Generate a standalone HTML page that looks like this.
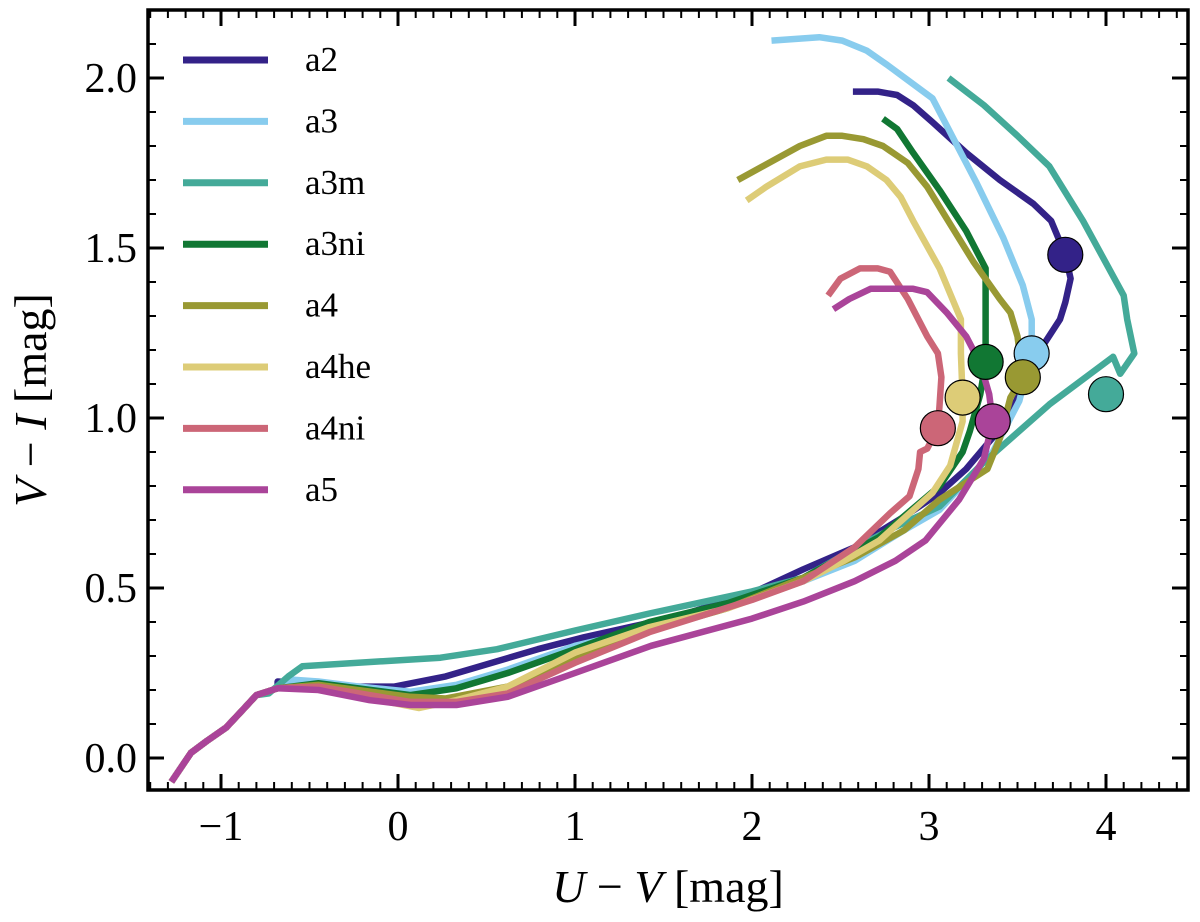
<!DOCTYPE html>
<html><head><meta charset="utf-8"><style>
html,body{margin:0;padding:0;background:#fff;}
svg{display:block;font-family:"Liberation Serif",serif;}
</style></head><body>
<svg id="chart" width="1200" height="922" viewBox="0 0 1200 922"></svg>
<script>
const seriesNames=["a2","a3","a3m","a3ni","a4","a4he","a4ni","a5"];
const seriesColors=["#332288","#88CCEE","#44AA99","#117733","#999933","#DDCC77","#CC6677","#AA4499"];
const commonU=[-1.28,-1.17,-1.08,-0.97,-0.88,-0.8,-0.68];
const commonV=[-0.07,0.015,0.05,0.09,0.14,0.185,0.205];
const a2U=[2.57,2.71,2.82,2.91,3.02,3.21,3.40,3.59,3.69,3.73,3.77,3.80,3.77,3.74,3.64,3.51,3.44,3.34,3.21,3.06,2.86,2.58,2.29,2.0,1.57,1.05,0.79,0.27,-0.02,-0.25,-0.51,-0.68];
const a2V=[1.96,1.96,1.95,1.92,1.87,1.78,1.70,1.63,1.58,1.53,1.48,1.41,1.34,1.29,1.21,1.07,0.99,0.93,0.85,0.78,0.71,0.62,0.555,0.485,0.415,0.355,0.32,0.24,0.21,0.21,0.22,0.225];
const a3U=[2.11,2.38,2.51,2.65,2.76,2.89,3.02,3.14,3.27,3.42,3.53,3.58,3.58,3.51,3.36,3.06,2.86,2.58,2.29,2.0,1.57,1.0,0.62,0.33,0.07,-0.22,-0.45,-0.59,-0.68];
const a3V=[2.11,2.12,2.11,2.08,2.04,1.99,1.94,1.82,1.69,1.53,1.39,1.29,1.19,1.05,0.90,0.73,0.67,0.58,0.52,0.47,0.40,0.33,0.26,0.215,0.195,0.21,0.225,0.23,0.205];
const a3mU=[3.11,3.31,3.50,3.68,3.87,4.10,4.12,4.16,4.08,4.04,3.68,3.31,3.06,2.81,2.63,2.29,2.0,1.42,1.0,0.56,0.24,-0.54,-0.62,-0.73,-0.8];
const a3mV=[2.0,1.92,1.83,1.74,1.58,1.36,1.29,1.19,1.13,1.18,1.04,0.87,0.74,0.68,0.63,0.53,0.49,0.425,0.375,0.32,0.295,0.27,0.24,0.19,0.185];
const a3niU=[2.74,2.82,2.91,3.06,3.21,3.32,3.32,3.32,3.29,3.23,3.19,3.06,2.72,2.29,1.86,1.42,1.0,0.62,0.33,0.07,-0.45,-0.68];
const a3niV=[1.88,1.85,1.78,1.67,1.55,1.44,1.23,1.165,1.07,0.96,0.9,0.8,0.65,0.53,0.455,0.40,0.32,0.25,0.205,0.185,0.22,0.205];
const a4U=[1.92,2.06,2.27,2.42,2.51,2.63,2.74,2.88,2.99,3.12,3.25,3.40,3.46,3.50,3.53,3.46,3.40,3.33,3.06,2.86,2.58,2.29,1.86,1.42,1.0,0.62,0.27,0.07,-0.45,-0.68];
const a4V=[1.70,1.74,1.80,1.83,1.83,1.82,1.80,1.75,1.68,1.57,1.46,1.35,1.31,1.24,1.12,1.06,0.94,0.85,0.76,0.67,0.59,0.53,0.44,0.375,0.29,0.21,0.175,0.18,0.215,0.205];
const a4heU=[1.97,2.08,2.27,2.42,2.54,2.65,2.76,2.84,2.91,3.06,3.18,3.18,3.19,3.19,3.12,3.02,2.72,2.52,2.29,1.86,1.42,1.0,0.62,0.33,0.12,-0.45,-0.68];
const a4heV=[1.64,1.68,1.74,1.76,1.76,1.74,1.70,1.65,1.58,1.44,1.29,1.19,1.06,0.99,0.86,0.78,0.64,0.58,0.52,0.44,0.385,0.31,0.21,0.17,0.147,0.205,0.205];
const a4niU=[2.43,2.5,2.61,2.71,2.78,2.88,2.99,3.05,3.07,3.06,3.05,2.99,2.95,2.94,2.89,2.78,2.58,2.29,2.0,1.42,1.0,0.62,0.33,0.07,-0.45,-0.68];
const a4niV=[1.36,1.41,1.44,1.44,1.43,1.35,1.24,1.19,1.12,1.04,0.97,0.91,0.9,0.85,0.77,0.72,0.62,0.52,0.465,0.37,0.28,0.19,0.165,0.165,0.21,0.205];
const a5U=[2.46,2.55,2.67,2.91,2.99,3.10,3.21,3.29,3.34,3.36,3.31,3.17,2.98,2.81,2.58,2.29,2.0,1.43,1.0,0.62,0.33,0.07,-0.16,-0.45,-0.68];
const a5V=[1.32,1.35,1.38,1.38,1.37,1.31,1.24,1.16,1.07,0.99,0.88,0.76,0.64,0.58,0.52,0.46,0.41,0.33,0.25,0.18,0.156,0.156,0.17,0.2,0.205];
const markerU=[3.77,3.58,4.0,3.32,3.53,3.19,3.05,3.36];
const markerV=[1.48,1.19,1.07,1.165,1.12,1.06,0.97,0.99];
const xTickVals=[-1,0,1,2,3,4];
const xTickLabels=["\u22121","0","1","2","3","4"];
const yTickVals=[0,0.5,1,1.5,2];
const yTickLabels=["0.0","0.5","1.0","1.5","2.0"];

const L=148,R=1188,T=10,B=790;
const xs=u=>398+(u)*177;
const ys=v=>758-v*340;
const svg=document.getElementById('chart');
const NS="http://www.w3.org/2000/svg";
function mk(tag,attrs,parent){const e=document.createElementNS(NS,tag);for(const k in attrs)e.setAttribute(k,attrs[k]);(parent||svg).appendChild(e);return e;}

const clip=mk('clipPath',{id:'pc'});mk('rect',{x:L,y:T,width:R-L,height:B-T},clip);
const plot=mk('g',{'clip-path':'url(#pc)'});



const allU=[a2U,a3U,a3mU,a3niU,a4U,a4heU,a4niU,a5U];
const allV=[a2V,a3V,a3mV,a3niV,a4V,a4heV,a4niV,a5V];
for(let s=0;s<8;s++){
  const U=allU[s].concat(commonU.slice().reverse()),V=allV[s].concat(commonV.slice().reverse());
  const d=U.map((u,i)=>(i?'L':'M')+xs(u).toFixed(1)+' '+ys(V[i]).toFixed(1)).join(' ');
  const p=mk('path',{d:d,fill:'none',stroke:seriesColors[s],'stroke-width':6.5,'stroke-linejoin':'round','stroke-linecap':'butt'},plot);
  
  
}
for(let s=0;s<8;s++){
  const c=mk('circle',{cx:xs(markerU[s]),cy:ys(markerV[s]),r:17.5,fill:seriesColors[s],stroke:'#000','stroke-width':1.2},plot);
  
  
}
const fr=mk('rect',{x:L,y:T,width:R-L,height:B-T,fill:'none',stroke:'#000','stroke-width':3.5});


for(let k=-14;k<=44;k++){const u=k/10;const x=xs(u);if(x<L||x>R)continue;const major=k%10===0;const len=major?16:8;
  mk('line',{x1:x,x2:x,y1:B,y2:B-len,stroke:'#000','stroke-width':major?3:2});
  mk('line',{x1:x,x2:x,y1:T,y2:T+len,stroke:'#000','stroke-width':major?3:2});}
for(let k=-1;k<=22;k++){const v=k/10;const y=ys(v);if(y<T||y>B)continue;const major=k%5===0;const len=major?16:8;
  mk('line',{x1:L,x2:L+len,y1:y,y2:y,stroke:'#000','stroke-width':major?3:2});
  mk('line',{x1:R,x2:R-len,y1:y,y2:y,stroke:'#000','stroke-width':major?3:2});}
xTickVals.forEach((u,i)=>{const t=mk('text',{x:xs(u),y:840,'text-anchor':'middle','font-size':42});t.textContent=xTickLabels[i];
  
  });
yTickVals.forEach((v,i)=>{const t=mk('text',{x:137,y:ys(v)+14,'text-anchor':'end','font-size':42});t.textContent=yTickLabels[i];
  
  });
for(let s=0;s<8;s++){const y=60+s*61.4;
  const g=mk('g',{});
  
  
  mk('line',{x1:183,x2:268,y1:y,y2:y,stroke:seriesColors[s],'stroke-width':7},g);
  const t=mk('text',{x:305,y:y+11,'font-size':35},g);t.textContent=seriesNames[s];}
</script>
<div style="position:absolute;left:0;top:0;width:1200px;height:922px;pointer-events:none;">
<svg width="1200" height="922" style="position:absolute;left:0;top:0;font-family:'Liberation Serif',serif;">
<text x="668" y="902" text-anchor="middle" font-size="46"><tspan font-style="italic">U</tspan> − <tspan font-style="italic">V</tspan> [mag]</text>
<text transform="translate(46,400) rotate(-90)" text-anchor="middle" font-size="46"><tspan font-style="italic">V</tspan> − <tspan font-style="italic">I</tspan> [mag]</text>
</svg></div>
</body></html>
